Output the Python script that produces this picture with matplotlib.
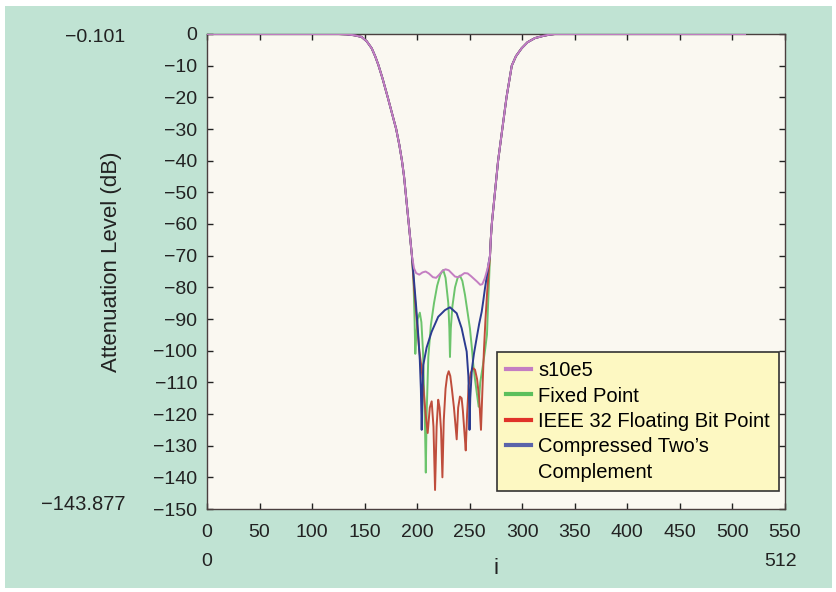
import numpy as np
import matplotlib
matplotlib.use("Agg")
import matplotlib.pyplot as plt
from matplotlib.patches import Rectangle
from matplotlib.lines import Line2D

plt.rcParams['font.family'] = ['Liberation Sans', 'DejaVu Sans']

# shared transition band (all four responses overlap here)
wall_left_i = [0, 125, 133, 140, 147, 152, 156.7, 160, 163, 167, 172, 176, 180, 183,
               185.5, 187.5, 189, 190.5, 192, 193.5, 195]
wall_left_db = [0, 0, -0.1, -0.4, -0.9, -2.3, -4.5, -7, -9.7, -14, -20, -25, -30, -35,
                -40, -45, -50, -55, -60, -65, -70]
wall_right_i = [269.3, 270, 271, 272.5, 274, 275.5, 277, 279, 281, 283, 285, 287.5, 290,
                294, 299.4, 305, 312, 320, 326, 331, 512]
wall_right_db = [-70, -65, -60, -55, -50, -45, -40, -35, -30, -25, -20, -15, -10,
                 -7, -4.5, -2.6, -1.3, -0.6, -0.2, 0, 0]

# stopband part of each series
s10e5_i = [197, 199, 202, 205, 208, 211, 215, 218, 221, 224, 227, 230, 233, 236, 239,
           242, 245, 248, 251, 254, 257, 260, 262, 264.5, 267, 268.5]
s10e5_db = [-74, -75.5, -76, -75.3, -75.0, -75.6, -76.8, -77.0, -76, -74.8, -74.3, -74.6,
            -75.6, -76.6, -76.8, -76.2, -75.5, -75.6, -76.4, -77.3, -78.2, -79.2, -79.0,
            -77, -74, -71.5]

fixed_i = [196.5, 197.5, 198.2, 199, 200.5, 202.5, 204, 205.5, 206.5, 207.5, 208.2, 209,
           210.6, 213, 216, 219, 222, 224.8, 227, 229.6, 230.6, 231.2, 232, 233.5, 236,
           238.5, 240.7, 243, 245.5, 248, 250.2, 252, 253.4, 255, 257, 258.5, 260, 262.6,
           264.5, 266.4, 267.5, 268.5]
fixed_db = [-78, -90, -101, -96, -90, -88, -91, -100, -112, -125, -138.5, -120,
            -102, -92, -85, -79.5, -76, -74.5, -77, -85, -93, -102, -93, -86, -80,
            -77, -76.3, -78, -82.4, -88, -93, -99, -104.5, -109, -114, -117.7, -110, -104.5,
            -100, -95, -85, -77]

ieee_i = [197, 199.5, 202, 204, 206, 208, 210, 212, 213.8, 215.5, 217, 218.5, 220, 221.3,
          222.7, 224, 225.3, 227, 228.5, 230, 231.5, 233, 235, 237.6, 239, 240.7, 242.3,
          243.5, 245, 246.2, 247.5, 249, 251, 253, 255, 257, 259, 260.7, 262, 263.5, 265,
          266.5, 268]
ieee_db = [-80, -90, -100, -105, -112, -120, -126, -118, -116, -124, -144, -124, -115.5,
           -118, -125, -140, -122, -112, -108, -106.5, -108, -112, -118, -128, -118, -114.5,
           -115, -119, -126, -131.5, -120, -111, -107, -105.5, -106, -109, -115, -125, -113,
           -100, -90, -82, -75]

comp_i = [197, 199, 201, 202.5, 203.5, 204, 204.3, 205, 205.8, 209, 213.8, 220, 226.4,
          231.2, 237.6, 242.3, 247.1, 248.7, 249.5, 249.8, 250.5, 252, 254, 256.6, 259,
          261.4, 263, 264.5, 266.5, 267.7]
comp_db = [-78, -86, -95, -103, -112, -120, -125, -113, -104.5, -99, -94, -89.3, -87.2,
           -86.3, -88.2, -92.9, -100.3, -108, -117, -125, -115, -106, -101, -96, -91.5,
           -87.7, -84, -80.3, -76, -72.9]

legend_labels = ['s10e5', 'Fixed Point', 'IEEE 32 Floating Bit Point',
                 'Compressed Two\u2019s', 'Complement']
x_ticks = list(range(0, 551, 50))
y_ticks = list(range(-150, 1, 10))

W, H = 836, 592
fig = plt.figure(figsize=(W / 100, H / 100), dpi=100)
fig.patch.set_facecolor('white')
fig.patches.append(Rectangle((5 / W, 4 / H), (W - 9) / W, (H - 10) / H,
                             transform=fig.transFigure, facecolor='#c0e3d3',
                             edgecolor='none', zorder=-10))

ax = fig.add_axes([207 / W, 1 - 509 / H, 578 / W, 475 / H])
ax.set_zorder(1)
ax.set_facecolor('#faf8f1')


def series(mid_i, mid_db):
    return wall_left_i + mid_i + wall_right_i, wall_left_db + mid_db + wall_right_db


lw = 1.4
xi, yd = series(fixed_i, fixed_db)
ax.plot(xi, yd, color='#6cc46c', lw=lw, zorder=2)
xi, yd = series(ieee_i, ieee_db)
ax.plot(xi, yd, color='#bf4d3c', lw=lw, zorder=3)
xi, yd = series(comp_i, comp_db)
ax.plot(xi, yd, color='#2b3b90', lw=lw, zorder=4)
xi, yd = series(s10e5_i, s10e5_db)
ax.plot(xi, yd, color='#c47ec2', lw=lw, zorder=5)

ax.set_xlim(0, 550)
ax.set_ylim(-150, 0)
ax.set_xticks(x_ticks)
ax.set_yticks(y_ticks)
ax.tick_params(direction='in', length=4, width=1, labelsize=14, colors='#222222',
               top=True, right=True, pad=7)
ax.tick_params(axis='x', pad=11)
for sp in ax.spines.values():
    sp.set_color('#4a3f3f')
    sp.set_linewidth(1.0)

ax.set_xlabel('i', fontsize=16, color='#222222')
ax.xaxis.set_label_coords((496 - 207) / 578, -(558 - 509) / 475)
ax.set_ylabel('Attenuation Level (dB)', fontsize=16, color='#222222')
ax.yaxis.set_label_coords(-(207 - 122) / 578, (509 - 262) / 475)

# legend swatches (brighter than the plotted lines, as in the original)
handles = [Line2D([], [], color='#c47ec2', lw=3),
           Line2D([], [], color='#5cbf5c', lw=3),
           Line2D([], [], color='#e0332a', lw=3),
           Line2D([], [], color='#5a64aa', lw=3),
           Line2D([], [], color='none', lw=3)]
leg = ax.legend(handles, legend_labels,
                loc='upper left', bbox_to_anchor=((497 - 207) / 578, (509 - 352) / 475),
                borderaxespad=0, fontsize=14.5, fancybox=False, framealpha=1,
                facecolor='#fdf8c2', edgecolor='#333333', handlelength=1.25,
                handletextpad=0.35, labelspacing=0.32, borderpad=0.45)
leg.get_frame().set_linewidth(1.2)

fig.text(95 / W, 1 - 37 / H, '\u22120.101', fontsize=14, ha='center', va='center',
         color='#222222')
fig.text(83 / W, 1 - 505 / H, '\u2212143.877', fontsize=14.5, ha='center', va='center',
         color='#222222')
fig.text(207 / W, 1 - 562 / H, '0', fontsize=14, ha='center', va='center', color='#222222')
fig.text(781 / W, 1 - 562 / H, '512', fontsize=14, ha='center', va='center',
         color='#222222')

fig.savefig('out.png', dpi=100, facecolor=fig.get_facecolor())
